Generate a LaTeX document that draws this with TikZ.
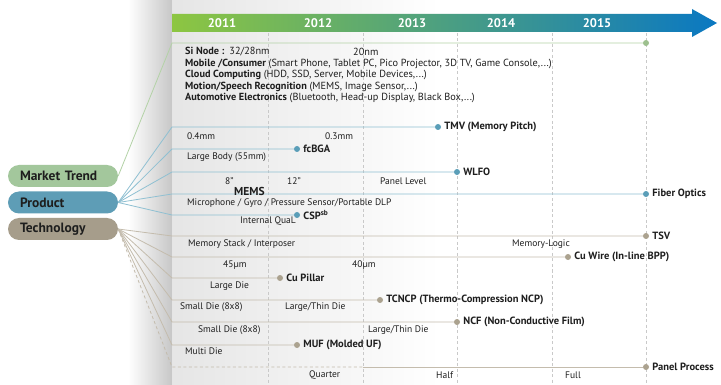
\documentclass[tikz,border=0pt]{standalone}
\usepackage{fontspec}
\setmainfont{PT Sans}
\definecolor{mktfill}{HTML}{A3C79C}
\definecolor{prodfill}{HTML}{5E9DB6}
\definecolor{techfill}{HTML}{A69D8B}
\definecolor{mlinec}{HTML}{B3D2A6}
\definecolor{mdotc}{HTML}{9DC08E}
\definecolor{plinec}{HTML}{8FC0D2}
\definecolor{pdotc}{HTML}{5A9EB8}
\definecolor{tlinec}{HTML}{C4BCAD}
\definecolor{tdotc}{HTML}{ABA28F}
\definecolor{gridc}{HTML}{C9C9C9}
\definecolor{bargreen}{HTML}{8DC641}
\definecolor{barmid}{HTML}{4FAD80}
\definecolor{barblue}{HTML}{0A78C2}
\definecolor{txt}{HTML}{1E1E1E}
\begin{document}
\begin{tikzpicture}[x=1pt,y=-1pt,
  gridline/.style={gridc, line width=0.6pt, dash pattern=on 3pt off 2.5pt},
  yr/.style={font=\bfseries\fontsize{12.5}{13}\selectfont, text=white, inner sep=0},
  pill/.style={rounded corners=11pt, minimum width=110pt, minimum height=22pt, text width=86pt, align=left, inner xsep=12pt, inner ysep=0pt, font=\bfseries\fontsize{13.5}{14}\selectfont, text=txt},
  mline/.style={mlinec, line width=0.8pt},
  pline/.style={plinec, line width=0.8pt},
  tline/.style={tlinec, line width=0.8pt},
  dotshape/.style={circle, inner sep=0pt, minimum size=6pt},
  mdot/.style={dotshape, fill=mdotc},
  pdot/.style={dotshape, fill=pdotc},
  tdot/.style={dotshape, fill=tdotc},
  mtx/.style={anchor=west, inner sep=0pt, font=\fontsize{10.3}{12}\selectfont, text=txt},
  sl/.style={anchor=west, inner sep=0pt, font=\fontsize{9.5}{11}\selectfont, text=txt},
  bl/.style={anchor=west, inner sep=0pt, font=\bfseries\fontsize{10.5}{12}\selectfont, text=txt},
]
\useasboundingbox (0,0) rectangle (721,385);
\fill[white] (0,0) rectangle (721,385);
% page shadow and panel
\shade[left color=white, right color=black!22] (128,0) rectangle (172,385);
\shade[left color=black!10, right color=white] (172,0) rectangle (440,385);
% year grid
\foreach \gx in {268,363,457,552,646} \draw[gridline] (\gx,33) -- (\gx,385);
% timeline arrow
\shade[left color=bargreen, middle color=barmid, right color=barblue]
  (172,14) -- (692,14) -- (692,9) -- (717,23) -- (692,37) -- (692,32) -- (172,32) -- cycle;
\node[yr] (y11) at (222,23) {2011};
\node[yr] (y12) at (318,23) {2012};
\node[yr] (y13) at (412,23) {2013};
\node[yr] (y14) at (501,23) {2014};
\node[yr] (y15) at (597,23) {2015};
% category pills
\node[pill, fill=mktfill] (mt) at (63,176) {Market Trend};
\node[pill, fill=prodfill] (pr) at (63,202.5) {Product};
\node[pill, fill=techfill] (te) at (63,229) {Technology};
% market
\coordinate (m0) at (172,43);
\node[mdot] (sinode) at (646,43) {};
\draw[mline] (mt.east) -- (m0) -- (sinode);
% product rows
\coordinate (p1) at (172,127);
\coordinate (p2) at (172,149);
\coordinate (p3) at (172,172);
\coordinate (p4) at (172,194);
\coordinate (p5) at (172,215);
\node[pdot] (tmv) at (438,127) {};
\node[pdot] (fcbga) at (297,149) {};
\node[pdot] (wlfo) at (457,172) {};
\node[pdot] (fiber) at (646,194) {};
\node[pdot] (csp) at (297,215) {};
\draw[pline] (pr.east) -- (p1) -- (tmv);
\draw[pline] (pr.east) -- (p2) -- (fcbga);
\draw[pline] (pr.east) -- (p3) -- (wlfo);
\draw[pline] (pr.east) -- (p4) -- (fiber);
\draw[pline] (pr.east) -- (p5) -- (csp);
% technology rows
\coordinate (t1) at (172,236);
\coordinate (t2) at (172,257);
\coordinate (t3) at (172,278);
\coordinate (t4) at (172,300);
\coordinate (t5) at (172,322);
\coordinate (t6) at (172,345);
\coordinate (t7) at (172,367);
\coordinate (t7m) at (363,367);
\node[tdot] (tsv) at (646,236) {};
\node[tdot] (cuwire) at (568,257) {};
\node[tdot] (cupillar) at (280,278) {};
\node[tdot] (tcncp) at (380,300) {};
\node[tdot] (ncf) at (457,322) {};
\node[tdot] (muf) at (297,345) {};
\node[tdot] (panel) at (646,367) {};
\draw[tline] (te.east) -- (t1) -- (tsv);
\draw[tline] (te.east) -- (t2) -- (cuwire);
\draw[tline] (te.east) -- (t3) -- (cupillar);
\draw[tline] (te.east) -- (t4) -- (tcncp);
\draw[tline] (te.east) -- (t5) -- (ncf);
\draw[tline] (te.east) -- (t6) -- (muf);
\draw[tline, dash pattern=on 3pt off 2.5pt] (te.east) -- (t7) -- (t7m);
\draw[tline] (t7m) -- (panel);
% market text
\node[mtx] (mk1) at (185,52) {\textbf{Si Node :}\hspace{5pt}32/28nm};
\node[mtx] (mk1b) at (353,52) {20nm};
\node[mtx] (mk2) at (185,63.5) {\textbf{Mobile /Consumer} (Smart Phone, Tablet PC, Pico Projector, 3D TV, Game Console,...)};
\node[mtx] (mk3) at (185,75) {\textbf{Cloud Computing} (HDD, SSD, Server, Mobile Devices,...)};
\node[mtx] (mk4) at (185,86.5) {\textbf{Motion/Speech Recognition} (MEMS, Image Sensor,...)};
\node[mtx] (mk5) at (185,98) {\textbf{Automotive Electronics} (Bluetooth, Head-up Display, Black Box,...)};
% product labels
\node[bl] (tmvl) at ([xshift=3pt]tmv.east) {TMV (Memory Pitch)};
\node[bl] (fcbgal) at ([xshift=3pt]fcbga.east) {fcBGA};
\node[bl] (wlfol) at ([xshift=3pt]wlfo.east) {WLFO};
\node[bl] (fiberl) at ([xshift=3pt]fiber.east) {Fiber Optics};
\node[bl, anchor=base west] (cspl) at ([xshift=3pt,yshift=-4pt]csp.east) {CSP\textsuperscript{sb}};
\node[sl] (l04) at (187,136) {0.4mm};
\node[sl] (l03) at (325,136) {0.3mm};
\node[sl] (llb) at (187,157) {Large Body (55mm)};
\node[sl] (l8) at (225,181) {8”};
\node[sl] (l12) at (287,181) {12”};
\node[sl] (lpl) at (380,181) {Panel Level};
\node[bl, font=\bfseries\fontsize{11.5}{12}\selectfont] (lmems) at (234,191.5) {MEMS};
\node[sl] (lmic) at (187,203) {Microphone / Gyro / Pressure Sensor/Portable DLP};
\node[sl] (liq) at (240,221) {Internal QuaL};
% technology labels
\node[bl] (tsvl) at ([xshift=3pt]tsv.east) {TSV};
\node[bl] (cuwirel) at ([xshift=3pt]cuwire.east) {Cu Wire (In-line BPP)};
\node[bl] (cupillarl) at ([xshift=3pt]cupillar.east) {Cu Pillar};
\node[bl] (tcncpl) at ([xshift=3pt]tcncp.east) {TCNCP (Thermo-Compression NCP)};
\node[bl] (ncfl) at ([xshift=3pt]ncf.east) {NCF (Non-Conductive Film)};
\node[bl] (mufl) at ([xshift=3pt]muf.east) {MUF (Molded UF)};
\node[bl] (panell) at ([xshift=3pt]panel.east) {Panel Process};
\node[sl] (lms) at (188,244) {Memory Stack / Interposer};
\node[sl] (lml) at (512,244) {Memory-Logic};
\node[sl] (l45) at (223,265) {45µm};
\node[sl] (l40) at (352,265) {40µm};
\node[sl] (lld) at (210,286) {Large Die};
\node[sl] (lsd1) at (180,307) {Small Die (8x8)};
\node[sl] (ltd1) at (285,307) {Large/Thin Die};
\node[sl] (lsd2) at (198,330) {Small Die (8x8)};
\node[sl] (ltd2) at (368,330) {Large/Thin Die};
\node[sl] (lmd) at (185,351) {Multi Die};
\node[sl] (lq) at (309,375) {Quarter};
\node[sl] (lh) at (436,375) {Half};
\node[sl] (lf) at (565,375) {Full};
\end{tikzpicture}
\end{document}
